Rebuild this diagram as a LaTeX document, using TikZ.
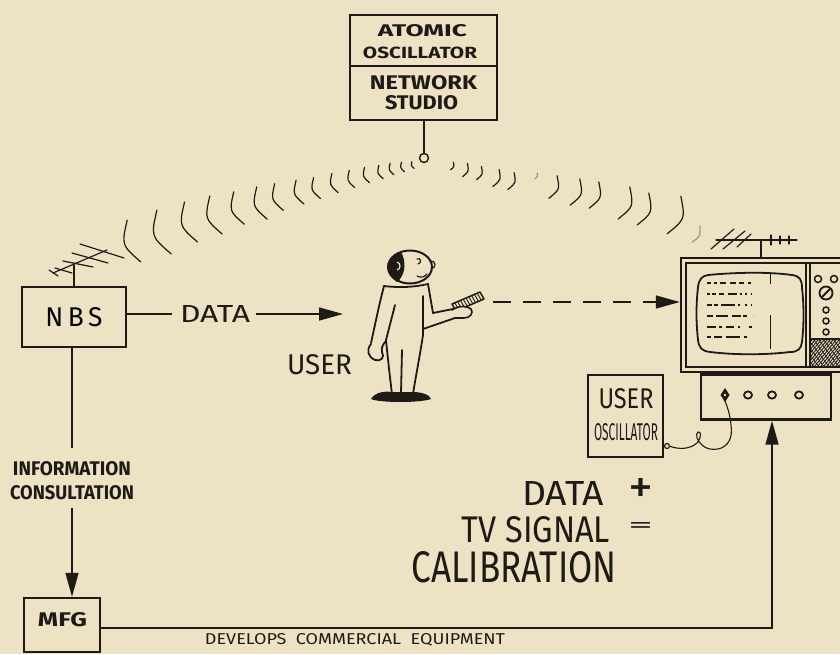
\documentclass[tikz,border=0pt]{standalone}
\usepackage{fontspec}
\setmainfont{Fira Sans}
\usepackage{graphicx}
\usetikzlibrary{arrows.meta,calc}
\definecolor{paper}{RGB}{237,227,196}
\definecolor{ink}{RGB}{30,26,22}
\definecolor{faint}{RGB}{160,150,128}
% lettering of a given width and cap height
\newcommand{\lettr}[3]{\resizebox{#1pt}{#2pt}{#3}}

\begin{document}
\begin{tikzpicture}[x=1pt,y=-1pt,
  box/.style={draw=ink, line width=2.4pt, inner sep=0pt},
  wire/.style={draw=ink, line width=1.5pt},
  tip/.style={-{Triangle[length=24pt,width=13pt]}},
  lbl/.style={inner sep=0pt, text=ink},
  small/.style={lbl, font=\bfseries},
  wave/.style={draw=ink, line width=1.2pt, line cap=round},
  fine/.style={draw=ink, line width=1.2pt, line cap=round, line join=round},
]
\useasboundingbox (0,0) rectangle (840,654);
\fill[paper] (0,0) rectangle (840,654);
\clip (0,0) rectangle (840,654);

% ---------- transmitting station ----------
\node[box, minimum width=147, minimum height=105] (station) at (423.5,67.5) {};
\draw[box] (station.west |- 0,66) -- (station.east |- 0,66);
\node[small] (atomic)  at (422.5,31)  {\lettr{89}{12}{ATOMIC}};
\node[small] (oscline) at (420,52.5)  {\lettr{114}{11.5}{OSCILLATOR}};
\node[small] (network) at (423.5,82.5){\lettr{107}{14}{NETWORK}};
\node[small] (studio)  at (421.5,102.5){\lettr{73}{14}{STUDIO}};
\node[draw=ink, line width=1.4pt, circle, minimum size=9pt, inner sep=0pt] (tx) at (424,158) {};
\draw[wire] (tx.north) -- (tx.north |- station.south);

% ---------- radiated waves ----------
\foreach \cx/\cy/\h in {134/241/22, 164/232/23, 191/222/21, 216/215/20, 239/208/17,
    262/203/17, 279/197/14, 300/192/12.5, 317/188/11, 335/183/10, 352/179/9,
    367/175/8, 381/172/7, 392/169/6, 403/167/5, 413/165/3.5}
  \draw[wave, shift={(\cx,\cy)}, rotate=18] (0,-\h) .. controls (-0.6*\h,0) .. (0,\h);
\foreach \cx/\cy/\h in {452/166/4, 465/170/7, 479/173/7, 496/178/9, 511/181/9,
    553/187/12, 575/192/14, 594/195/14, 624/203/17, 643/209/17, 674/215/20}
  \draw[wave, shift={(\cx,\cy)}, rotate=-20] (0,-\h) .. controls (0.6*\h,0) .. (0,\h);
\draw[wave, draw=faint, shift={(536,176)}, rotate=-20] (0,-3) .. controls (1.8,0) .. (0,3);
\draw[wave, draw=faint, shift={(696,234)}, rotate=-25] (0,-9) .. controls (5,0) .. (0,9);

% ---------- NBS ----------
\node[box, minimum width=104, minimum height=60] (nbs) at (74,317) {\lettr{57}{19}{N\,B\,S}};
\draw[fine] (74,287) -- (74,265);
\draw[fine] (53,273) -- (107,250);
\draw[fine] (80,244) -- (124,258);
\draw[fine] (72,253) -- (108,263);
\draw[fine] (63,261) -- (93,267);
\draw[fine] (55,268) -- (72,273);
\draw[fine] (49,270) -- (58,276);

\node[lbl] (datalbl) at (215,314) {\lettr{70}{17}{DATA}};
\draw[wire] (nbs.east |- datalbl) -- ([xshift=-8pt]datalbl.west);
\coordinate (user) at (343,314);
\draw[wire, tip] ([xshift=6pt]datalbl.east) -- (user);
\node[lbl] (userlbl) at (319.5,365) {\lettr{65}{20}{USER}};

% ---------- the user ----------
\draw[ink, line width=2pt] (410,267) ellipse [x radius=22, y radius=16.5];
\fill[ink] (401,252) .. controls (392,255) and (388,261) .. (388,267)
  .. controls (388,273) and (391,278) .. (397,282)
  .. controls (405,276) and (407,262) .. (401,252) -- cycle;
\draw[paper, line width=1.2pt] (397,262) .. controls (401,263) and (401,269) .. (397,270);
\draw[fine] (417,259) .. controls (421,257) and (422,263) .. (418,264);
\draw[fine] (430,261) .. controls (436,260) and (437,268) .. (431,269);
\draw[fine] (417,276) .. controls (421,278) and (425,277) .. (427,274);
% suit
\draw[fine, line width=1.8pt] (384,286) .. controls (400,288) and (415,287) .. (428,284);
\draw[fine, line width=1.8pt] (384,286) .. controls (379,305) and (375,325) .. (371,343);
\draw[fine, line width=1.8pt] (395,305) -- (386,340);
\draw[fine, line width=1.8pt] (371,344) .. controls (366,350) and (368,357) .. (375,360)
  .. controls (381,362) and (385,357) .. (382,352) .. controls (381,348) and (383,344) .. (386,341);
\draw[fine, line width=1.8pt] (386,340) .. controls (388,360) and (390,378) .. (392,394);
\draw[fine, line width=1.8pt] (402,350) -- (401,393);
\draw[fine, line width=1.8pt] (423,296) -- (423,335) .. controls (420,355) and (416,375) .. (413,394);
\draw[fine, line width=1.8pt] (428,284) -- (433,313) -- (453,309);
\draw[fine, line width=1.8pt] (423,329) -- (455,318);
\fill[ink] (371,399) .. controls (375,392) and (385,391) .. (392,392) -- (413,392)
  .. controls (422,392) and (430,395) .. (431,399) .. controls (420,403) and (380,403) .. (371,399) -- cycle;
% card in hand
\draw[fine, line width=1.5pt, fill=paper] (452,304) -- (480,292) -- (484,299) -- (456,311) -- cycle;
\foreach \t in {0.1,0.2,...,0.9}
  \draw[ink, line width=0.9pt] ($(452,304)!\t!(480,292)$) -- ($(456,311)!\t!(484,299)$);
\draw[fine, line width=1.6pt, fill=paper] (452,310) .. controls (460,305) and (467,306) .. (471,309)
  .. controls (474,313) and (470,318) .. (464,318) -- (455,318);

% ---------- receiver ----------
\node[box, minimum width=170, minimum height=114] (tv) at (766,315) {};
\draw[ink, line width=1.2pt] (686,263) rectangle (850,367);
\draw[ink, line width=1.8pt] (708,275) .. controls (740,272) and (770,272) .. (792,275)
  .. controls (800,276) and (802,280) .. (802,288)
  .. controls (804,305) and (804,325) .. (802,342)
  .. controls (801,349) and (798,352) .. (790,352)
  .. controls (765,355) and (735,355) .. (710,352)
  .. controls (702,351) and (699,348) .. (698,340)
  .. controls (696,322) and (696,305) .. (698,287)
  .. controls (699,279) and (702,276) .. (708,275) -- cycle;
\draw[ink, line width=0.8pt] (770,273) -- (770,284) (770,315) -- (770,349);
\draw[ink, line width=2.4pt, dash pattern=on 4pt off 3pt on 3pt off 3pt on 6pt off 4pt on 6pt off 3pt on 5pt] (707,283) -- (752,283);
\draw[ink, line width=2.4pt, dash pattern=on 3pt off 2pt on 4pt off 3pt on 5pt off 4pt on 9pt off 3pt on 2pt] (707,294) -- (752,294);
\draw[ink, line width=2.4pt, dash pattern=on 5pt off 2pt on 4pt off 3pt on 14pt off 3pt on 2pt] (707,305) -- (752,305);
\draw[ink, line width=2.4pt, dash pattern=on 6pt off 3pt on 12pt off 4pt on 9pt off 2pt on 4pt] (707,316) -- (753,316);
\draw[ink, line width=2.4pt, dash pattern=on 9pt off 3pt on 3pt off 4pt on 8pt off 4pt on 2pt] (707,327) -- (752,327);
\draw[ink, line width=2.4pt, dash pattern=on 4pt off 3pt on 8pt off 4pt on 14pt] (707,337) -- (752,337);
% control panel
\draw[ink, line width=1.2pt] (806,263) -- (806,367) (810,263) -- (810,367);
\draw[ink, line width=1.2pt] (810,339) -- (850,339);
\draw[ink, line width=1.5pt] (818,279) circle (3.5) (834,279) circle (3.5);
\draw[ink, line width=1.8pt] (826,293) circle (6.5);
\draw[ink, line width=1.8pt] (822,297) -- (830,289);
\draw[ink, line width=1.5pt] (826,310) circle (3) (826,321) circle (3) (826,332) circle (3);
\begin{scope}
  \clip (811,340) rectangle (850,367);
  \foreach \i in {0,3,...,75} \draw[ink, line width=0.9pt] (780+\i,372) -- (810+\i,335);
  \foreach \i in {0,5,...,75} \draw[ink, line width=0.7pt] (780+\i,335) -- (808+\i,372);
\end{scope}
% aerial
\draw[fine] (761,258) -- (761,240);
\draw[fine] (716,240) -- (797,240);
\draw[fine] (711,249) -- (734,229);
\draw[fine] (723,249) -- (745,231);
\draw[fine] (737,247) -- (751,234);
\draw[fine] (771,235) -- (771,245) (780,236) -- (780,244) (789,236) -- (789,244);
% stand
\node[box, minimum width=130, minimum height=45] (stand) at (766,397) {};
\fill[ink] (725,388) -- (729.5,395) -- (725,402) -- (720.5,395) -- cycle;
\fill[paper] (725,395) circle (1.4);
\foreach \x in {748,772,799}
  \draw[ink, line width=1.8pt] (\x,395) ellipse [x radius=4, y radius=3.6];

\coordinate (card) at (493,302);
\draw[wire, dash pattern=on 18pt off 12pt, tip] (card) -- (card -| tv.west);

% ---------- user oscillator ----------
\node[box, minimum width=75, minimum height=82] (osc) at (625.5,416) {};
\node[lbl] (osclbl1) at (626,399) {\lettr{55}{20}{USER}};
\node[lbl] (osclbl2) at (626,432) {\lettr{64}{17}{OSCILLATOR}};
\draw[ink, line width=1.2pt] (667,446) circle (2.5);
\draw[ink, line width=1.1pt] (669,446) .. controls (680,450) and (690,449) .. (697,443)
  .. controls (702,437) and (701,431) .. (698,432) .. controls (695,434) and (697,441) .. (702,445)
  .. controls (706,449) and (712,450) .. (718,449)
  .. controls (728,447) and (733,438) .. (731,425) .. controls (730,414) and (727,406) .. (725,401);

% ---------- manufacturer ----------
\node[box, minimum width=76, minimum height=54] (mfg) at (62,625) {};
\node[small] (mfglbl) at (62.5,620) {\lettr{49}{14}{MFG}};
\node[small, align=center] (info) at (72,481)
  {\lettr{118}{14}{INFORMATION}\\[8.5pt]\lettr{124}{14}{CONSULTATION}};
\draw[wire] (info |- nbs.south) -- ([yshift=14pt]info.north);
\draw[wire, tip] ([yshift=-8pt]info.south) -- (info |- mfg.north);
\draw[wire, tip] ([yshift=-3pt]mfg.east) -| ([xshift=6pt]stand.south);
\node[lbl] (develops) at (355,640) {\lettr{300}{11}{DEVELOPS\ \ COMMERCIAL\ \ EQUIPMENT}};

% ---------- the result ----------
\node[lbl] (sumdata) at (563,493) {\lettr{82}{24}{DATA}};
\node[lbl] (plus) at (640.5,490.5) {\lettr{25}{25}{+}};
\node[lbl] (sumtv) at (536,530) {\lettr{148}{26}{TV SIGNAL}};
\node[lbl] (equals) at (640.5,527) {\lettr{25}{10}{=}};
\node[lbl] (sumcal) at (514,567.5) {\lettr{205}{31}{CALIBRATION}};
\end{tikzpicture}
\end{document}
